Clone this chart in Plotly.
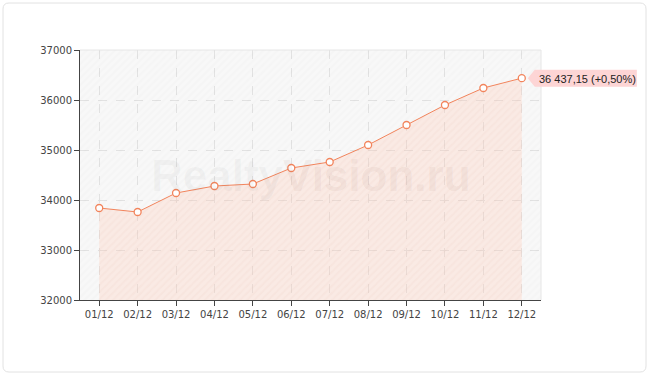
import plotly.graph_objects as go

months = ["01/12", "02/12", "03/12", "04/12", "05/12", "06/12",
          "07/12", "08/12", "09/12", "10/12", "11/12", "12/12"]
prices = [33840, 33760, 34140, 34280, 34320, 34640,
          34760, 35100, 35500, 35900, 36240, 36437.15]
y_ticks = [32000, 33000, 34000, 35000, 36000, 37000]
last_label = "36 437,15 (+0,50%)"

W, H = 650, 375
L, R, T, B = 80, 109, 50, 75
pw, ph = W - L - R, H - T - B
XR = [-0.5, 11.5]
YR = [y_ticks[0], y_ticks[-1]]

def px(x):
    return (x - L) / pw

def py(y):
    return (H - B - y) / ph

idx = list(range(len(months)))

fig = go.Figure()
fig.add_trace(go.Scatter(
    x=XR, y=[YR[1], YR[1]], mode="none",
    fill="tozeroy", fillcolor="rgba(0,0,0,0)",
    fillpattern=dict(shape="/", fgcolor="rgba(0,0,0,0.025)", bgcolor="rgba(0,0,0,0)",
                     size=5, solidity=0.3),
    hoverinfo="skip", showlegend=False))
fig.add_trace(go.Scatter(
    x=idx, y=prices, mode="lines+markers",
    line=dict(color="#f2845c", width=1),
    marker=dict(size=7, color="white", line=dict(color="#f2845c", width=1.3)),
    fill="tozeroy", fillcolor="rgba(255,190,170,0.3)",
    fillpattern=dict(shape="/", fgcolor="rgba(240,150,120,0.08)",
                     bgcolor="rgba(255,195,175,0.28)", size=5, solidity=0.3),
    showlegend=False))

lx = L + (idx[-1] - XR[0]) / (XR[1] - XR[0]) * pw
ly = T + (YR[1] - prices[-1]) / (YR[1] - YR[0]) * ph

def pt(x, y):
    return f"{px(x)},{py(y)}"

label_path = (f"M {pt(lx+6, ly)} L {pt(lx+13, ly-8.5)} L {pt(lx+115, ly-8.5)} "
              f"L {pt(lx+115, ly+8.5)} L {pt(lx+13, ly+8.5)} Z")

x0, x1, y0, y1, r = 3, 646, 3, 372, 6
path = (f"M {pt(x0+r, y0)} L {pt(x1-r, y0)} Q {pt(x1, y0)} {pt(x1, y0+r)} "
        f"L {pt(x1, y1-r)} Q {pt(x1, y1)} {pt(x1-r, y1)} "
        f"L {pt(x0+r, y1)} Q {pt(x0, y1)} {pt(x0, y1-r)} "
        f"L {pt(x0, y0+r)} Q {pt(x0, y0)} {pt(x0+r, y0)} Z")
shapes = [
    dict(type="path", xref="paper", yref="paper", path=path,
         line=dict(color="#e2e2e2", width=1), fillcolor="rgba(0,0,0,0)", layer="below"),
    dict(type="line", xref="paper", yref="paper", x0=0, x1=1, y0=1, y1=1,
         line=dict(color="#e6e6e6", width=1)),
    dict(type="line", xref="paper", yref="paper", x0=1, x1=1, y0=0, y1=1,
         line=dict(color="#e6e6e6", width=1)),
    dict(type="path", xref="paper", yref="paper", path=label_path,
         fillcolor="#fdd5d5", line=dict(width=0), layer="above"),
]

annotations = [
    dict(x=idx[-1], y=prices[-1], xref="x", yref="y", text=last_label,
         showarrow=False, xanchor="left", yanchor="middle", xshift=15, yshift=-0.5,
         font=dict(family="Liberation Sans", size=11, color="#222")),
    dict(x=px(311), y=py(175), xref="paper", yref="paper",
         text="<b><span style='color:rgba(120,120,120,0.06)'>Realty</span>"
              "<span style='color:rgba(150,90,80,0.08)'>Vision.ru</span></b>",
         showarrow=False, font=dict(family="Liberation Sans", size=44)),
]

fig.update_layout(
    width=W, height=H, margin=dict(l=L, r=R, t=T, b=B),
    paper_bgcolor="white", plot_bgcolor="#f8f8f8",
    shapes=shapes, annotations=annotations,
    font=dict(family="DejaVu Sans", size=10, color="#444"),
    xaxis=dict(range=XR, tickmode="array", tickvals=idx, ticktext=months,
               showgrid=True, gridcolor="#e2e2e2", griddash="dash", gridwidth=1,
               showline=True, linecolor="#444", linewidth=1,
               ticks="outside", ticklen=5, tickcolor="#444", zeroline=False, fixedrange=True),
    yaxis=dict(range=YR, tickmode="array", tickvals=y_ticks,
               ticktext=[str(v) for v in y_ticks],
               showgrid=True, gridcolor="#e2e2e2", griddash="dash", gridwidth=1,
               showline=True, linecolor="#444", linewidth=1,
               ticks="outside", ticklen=5, tickcolor="#444", zeroline=False, fixedrange=True),
)

fig.write_html("out.html")
